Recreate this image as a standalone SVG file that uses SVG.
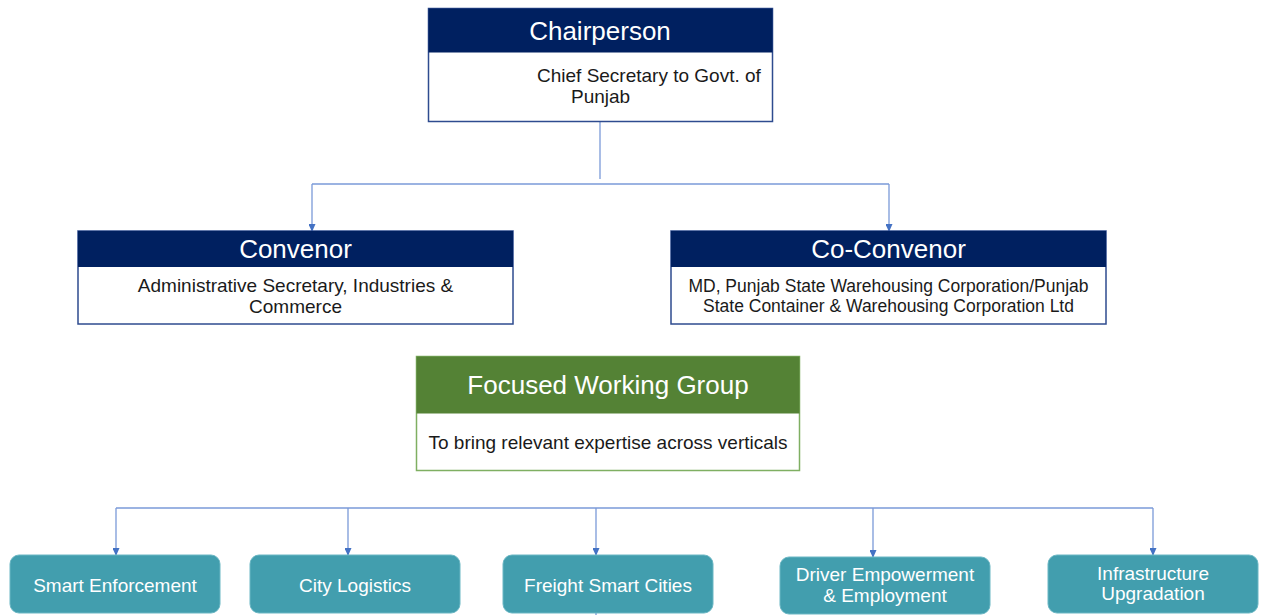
<svg xmlns="http://www.w3.org/2000/svg" width="1263" height="615" viewBox="0 0 1263 615">
<defs>
<marker id="arr" markerWidth="8" markerHeight="7" refX="7" refY="3.5" orient="auto" markerUnits="userSpaceOnUse">
<path d="M0,0 L8,3.5 L0,7 Z" fill="#4472C4"/>
</marker>
<style>
.hdr{fill:#002060}
.body{fill:#ffffff;stroke:#2E4B8F;stroke-width:1.5}
.gbody{fill:#ffffff;stroke:#7FAF62;stroke-width:1.5}
.ghdr{fill:#548235}
.ht{font-family:"Liberation Sans",Arial,sans-serif;font-size:26px;fill:#ffffff;text-anchor:middle}
.bt{font-family:"Liberation Sans",Arial,sans-serif;font-size:19px;fill:#1a1a1a;text-anchor:middle}
.teal{fill:#429EAE;stroke:#6BB7C4;stroke-width:1}
.lt{font-family:"Liberation Sans",Arial,sans-serif;font-size:19px;fill:#ffffff;text-anchor:middle}
.con{fill:none;stroke:#7A9AD8;stroke-width:1.3}
.arr{fill:none;stroke:#7A9AD8;stroke-width:1.3;marker-end:url(#arr)}
</style>
</defs>
<rect width="1263" height="615" fill="#ffffff"/>

<g id="connectors">
<line class="con" x1="600" y1="121" x2="600" y2="179"/>
<line class="con" x1="312" y1="184" x2="889" y2="184"/>
<line class="arr" x1="312" y1="184" x2="312" y2="231"/>
<line class="arr" x1="889" y1="184" x2="889" y2="231"/>
<line class="con" x1="116" y1="508" x2="1153" y2="508"/>
<line class="arr" x1="116" y1="508" x2="116" y2="555"/>
<line class="arr" x1="348" y1="508" x2="348" y2="555"/>
<line class="arr" x1="596" y1="508" x2="596" y2="555"/>
<line class="arr" x1="873" y1="508" x2="873" y2="557"/>
<line class="arr" x1="1153" y1="508" x2="1153" y2="555"/>
<line class="con" x1="596" y1="613" x2="596" y2="615"/>
</g>

<g id="chairperson">
<rect class="body" x="428.5" y="8.5" width="344" height="113"/>
<rect class="hdr" x="428.5" y="8.5" width="344" height="44"/>
<text class="ht" x="600" y="40">Chairperson</text>
<text class="bt" x="537" y="82" style="text-anchor:start">Chief Secretary to Govt. of</text>
<text class="bt" x="571" y="103" style="text-anchor:start">Punjab</text>
</g>

<g id="convenor">
<rect class="body" x="78" y="231" width="435" height="93"/>
<rect class="hdr" x="78" y="231" width="435" height="36"/>
<text class="ht" x="295.5" y="258">Convenor</text>
<text class="bt" x="295.5" y="292">Administrative Secretary, Industries &amp;</text>
<text class="bt" x="295.5" y="313">Commerce</text>
</g>

<g id="co-convenor">
<rect class="body" x="671" y="231" width="435" height="93"/>
<rect class="hdr" x="671" y="231" width="435" height="36"/>
<text class="ht" x="888.5" y="258">Co-Convenor</text>
<text class="bt" x="888.5" y="292" style="font-size:17.5px">MD, Punjab State Warehousing Corporation/Punjab</text>
<text class="bt" x="888.5" y="312" style="font-size:17.5px">State Container &amp; Warehousing Corporation Ltd</text>
</g>

<g id="focused-working-group">
<rect class="gbody" x="416.5" y="356.5" width="383" height="114"/>
<rect class="ghdr" x="416.5" y="356.5" width="383" height="57"/>
<text class="ht" x="608" y="394">Focused Working Group</text>
<text class="bt" x="608" y="449">To bring relevant expertise across verticals</text>
</g>

<g id="smart-enforcement">
<rect class="teal" x="10" y="555" width="210" height="58" rx="9"/>
<text class="lt" x="115" y="592">Smart Enforcement</text>
</g>

<g id="city-logistics">
<rect class="teal" x="250" y="555" width="210" height="58" rx="9"/>
<text class="lt" x="355" y="592">City Logistics</text>
</g>

<g id="freight-smart-cities">
<rect class="teal" x="503" y="555" width="210" height="58" rx="9"/>
<text class="lt" x="608" y="592">Freight Smart Cities</text>
</g>

<g id="driver-empowerment">
<rect class="teal" x="780" y="557" width="210" height="57" rx="9"/>
<text class="lt" x="885" y="581">Driver Empowerment</text>
<text class="lt" x="885" y="602">&amp; Employment</text>
</g>

<g id="infrastructure-upgradation">
<rect class="teal" x="1048" y="555" width="210" height="58" rx="9"/>
<text class="lt" x="1153" y="580">Infrastructure</text>
<text class="lt" x="1153" y="600">Upgradation</text>
</g>
</svg>
